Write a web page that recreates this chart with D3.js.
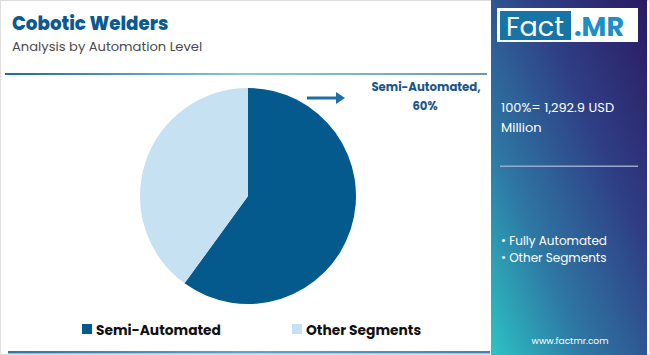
<!DOCTYPE html>
<html><head><meta charset="utf-8">
<script src="https://cdn.jsdelivr.net/npm/d3@7"></script>
<style>body{margin:0;padding:0;background:#fff}svg{display:block}</style>
</head><body>
<svg id="c" width="650" height="355"></svg>
<script>
const categories = ["Semi-Automated", "Other Segments"];
const values = [60, 40];
const colors = ["#045a8d", "#c6e1f1"];
const totalLabel = ["100%= 1,292.9 USD", "Million"];
const sideBullets = ["• Fully Automated", "• Other Segments"];

const svg = d3.select("#c");
const F = "Poppins, 'Open Sans', Lato, sans-serif";
const defs = svg.append("defs");

// frame
svg.append("rect").attr("x",0.5).attr("y",0.5).attr("width",649).attr("height",354).attr("fill","#fff").attr("stroke","#dedede");

// side panel gradient
const pg = defs.append("linearGradient").attr("id","pg").attr("x1","1").attr("y1","0").attr("x2","0").attr("y2","1");
pg.append("stop").attr("offset","0").attr("stop-color","#2b1a62");
pg.append("stop").attr("offset","0.35").attr("stop-color","#2f3e84");
pg.append("stop").attr("offset","0.7").attr("stop-color","#2e78a4");
pg.append("stop").attr("offset","1").attr("stop-color","#2cc3c4");
svg.append("rect").attr("x",491).attr("y",0).attr("width",156).attr("height",355).attr("fill","url(#pg)");

// lines
const lg = defs.append("linearGradient").attr("id","lg");
lg.append("stop").attr("offset","0").attr("stop-color","#1d6aa0");
lg.append("stop").attr("offset","0.5").attr("stop-color","#8cc7e3");
lg.append("stop").attr("offset","1").attr("stop-color","#6a98b8");
svg.append("rect").attr("x",5).attr("y",73).attr("width",482).attr("height",2).attr("fill","url(#lg)");
const lg2 = defs.append("linearGradient").attr("id","lg2");
lg2.append("stop").attr("offset","0").attr("stop-color","#2a78ab");
lg2.append("stop").attr("offset","0.5").attr("stop-color","#5aa6cf");
lg2.append("stop").attr("offset","1").attr("stop-color","#3d86b4");
svg.append("rect").attr("x",8).attr("y",351).attr("width",482).attr("height",2.5).attr("fill","url(#lg2)");

// titles
svg.append("text").attr("x",12).attr("y",30).attr("font-family",F).attr("font-weight",800)
  .attr("font-size",18.3).attr("fill","#0b5a8f").text("Cobotic Welders");
svg.append("text").attr("x",12).attr("y",51).attr("font-family",F)
  .attr("font-size",13.1).attr("fill","#4a4a4a").text("Analysis by Automation Level");

// pie
const cx = 248, cy = 196, r = 108;
const pie = d3.pie().sort(null).value(d => d)(values);
const arc = d3.arc().innerRadius(0).outerRadius(r);
svg.append("g").attr("transform",`translate(${cx},${cy})`)
  .selectAll("path").data(pie).join("path")
  .attr("d",arc).attr("fill",(d,i)=>colors[i]);

// annotation arrow + label
svg.append("line").attr("x1",307).attr("y1",98).attr("x2",337).attr("y2",98)
  .attr("stroke","#1c6ea4").attr("stroke-width",3);
svg.append("path").attr("d","M336,92 L345,98 L336,104 Z").attr("fill","#1c6ea4");
svg.append("text").attr("x",426).attr("y",91).attr("text-anchor","middle").attr("font-family",F)
  .attr("font-weight",700).attr("font-size",11.7).attr("fill","#1b5688").text(categories[0] + ",");
svg.append("text").attr("x",425).attr("y",110).attr("text-anchor","middle").attr("font-family",F)
  .attr("font-weight",700).attr("font-size",11.7).attr("fill","#1b5688").text(values[0] + "%");

// legend
const legX = [82, 292];
categories.forEach((c,i)=>{
  svg.append("rect").attr("x",legX[i]).attr("y",324).attr("width",10).attr("height",10).attr("fill",colors[i]);
  svg.append("text").attr("x",legX[i]+14).attr("y",335).attr("font-family",F).attr("font-weight",700)
    .attr("font-size",13.8).attr("fill","#111").text(c);
});

// logo
svg.append("rect").attr("x",497).attr("y",8).attr("width",141).attr("height",34).attr("fill","#fff");
svg.append("rect").attr("x",500).attr("y",11).attr("width",71).attr("height",29).attr("fill","#1674a6");
svg.append("text").attr("x",535).attr("y",36).attr("text-anchor","middle").attr("font-family",F)
  .attr("font-size",27).attr("fill","#fff").text("Fact");
svg.append("text").attr("x",574).attr("y",36).attr("font-family",F).attr("font-weight",700)
  .attr("font-size",27).attr("fill","#1b8fc6").text(".MR");

// panel texts
totalLabel.forEach((t,i)=>{
  svg.append("text").attr("x",501).attr("y",112+i*20).attr("font-family",F)
    .attr("font-size",13).attr("fill","#fff").text(t);
});
svg.append("rect").attr("x",500).attr("y",165.5).attr("width",138).attr("height",1.5).attr("fill","#9aa8d0");
sideBullets.forEach((t,i)=>{
  svg.append("text").attr("x",501).attr("y",245+i*17).attr("font-family",F)
    .attr("font-size",12).attr("fill","#fff").text(t);
});
svg.append("text").attr("x",570).attr("y",344).attr("text-anchor","middle").attr("font-family",F)
  .attr("font-size",9).attr("fill","#fff").text("www.factmr.com");
</script>
</body></html>
